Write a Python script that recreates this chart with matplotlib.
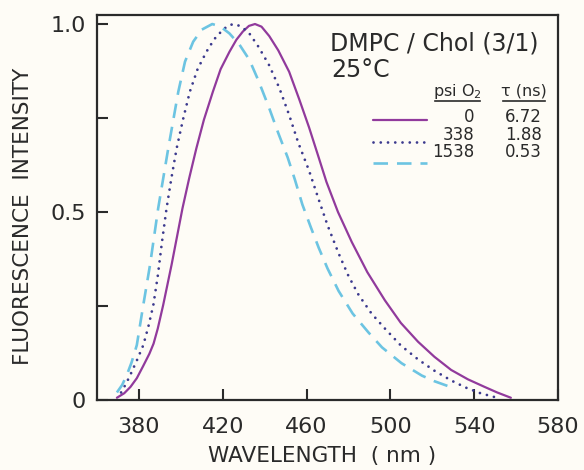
import matplotlib
matplotlib.use("Agg")
import matplotlib.pyplot as plt
from matplotlib.transforms import Affine2D

# ---- data ----
wl_0 = [369.5, 373, 376, 379, 382, 385, 387, 389, 391.6, 395.6, 400.8, 404, 407.4, 411,
        415.3, 419, 423.2, 426.5, 429.6, 432.5, 435.4, 438.5, 442.2, 446.5, 451.7, 456.5,
        461.2, 465.8, 469.5, 475, 481.6, 489, 497.4, 505, 513.2, 521, 529, 537, 544.9,
        551, 557.5]
int_0 = [0.006, 0.018, 0.035, 0.058, 0.09, 0.123, 0.15, 0.19, 0.253, 0.36, 0.51, 0.59,
         0.669, 0.745, 0.82, 0.88, 0.926, 0.958, 0.98, 0.995, 1.0, 0.993, 0.968, 0.93,
         0.873, 0.8, 0.725, 0.645, 0.58, 0.5, 0.42, 0.34, 0.265, 0.205, 0.155, 0.115,
         0.08, 0.055, 0.035, 0.02, 0.006]

wl_338 = [371.5, 374, 376, 379, 382.1, 384.5, 386.9, 389, 391, 393.2, 395.5, 398, 401,
          404.3, 408, 412.2, 416, 420.1, 423, 425.6, 429, 432.7, 437, 442.2, 447, 451.7,
          456, 461.2, 466, 470, 475.3, 480, 484.8, 491, 497.4, 505, 513.2, 521, 529, 536,
          543, 549.6]
int_338 = [0.02, 0.045, 0.068, 0.105, 0.146, 0.195, 0.253, 0.33, 0.42, 0.51, 0.59, 0.669,
           0.745, 0.82, 0.88, 0.926, 0.96, 0.985, 0.997, 1.0, 0.993, 0.975, 0.94, 0.89,
           0.83, 0.758, 0.685, 0.61, 0.53, 0.465, 0.39, 0.33, 0.28, 0.23, 0.19, 0.145,
           0.108, 0.078, 0.052, 0.033, 0.018, 0.008]

wl_1538 = [369.5, 372, 374.2, 376.5, 379, 382.1, 385.3, 389.2, 394, 398.8, 402, 405.9,
           410, 415, 419, 423.2, 428, 432.7, 437, 442.2, 446.5, 451, 454.5, 458, 462,
           465.8, 470, 475.3, 482, 489.5, 496, 505.3, 515, 521, 527.5]
int_1538 = [0.02, 0.04, 0.066, 0.1, 0.146, 0.253, 0.359, 0.51, 0.669, 0.82, 0.9, 0.953,
            0.985, 1.0, 0.993, 0.975, 0.945, 0.905, 0.85, 0.776, 0.71, 0.645, 0.585, 0.52,
            0.46, 0.405, 0.35, 0.29, 0.23, 0.18, 0.14, 0.098, 0.065, 0.05, 0.037]

psi_values = ["0", "338", "1538"]
tau_values = ["6.72", "1.88", "0.53"]
x_ticks = [380, 420, 460, 500, 540, 580]
y_ticks = [0, 0.5, 1.0]
y_tick_labels = ["0", "0.5", "1.0"]
y_minor = [0.25, 0.75]

# ---- figure ----
W, H = 584, 470
bg = "#FEFCF6"
ink = "#2a2a2a"
fig = plt.figure(figsize=(W / 100, H / 100), dpi=100, facecolor=bg)
ax = fig.add_axes([97 / W, 70 / H, (558 - 97) / W, (400 - 15) / H], facecolor=bg)

c_solid = "#913A9C"
c_dot = "#3C3A8E"
c_dash = "#6CC4E2"

l1, = ax.plot(wl_0, int_0, color=c_solid, lw=1.6, solid_capstyle="round",
              solid_joinstyle="round")
l2, = ax.plot(wl_338, int_338, color=c_dot, lw=2.0, linestyle=(0, (0.01, 2.6)),
              dash_capstyle="round")
l3, = ax.plot(wl_1538, int_1538, color=c_dash, lw=1.9, linestyle=(0, (5.5, 3.4)))

ax.set_xlim(360, 580)
ax.set_ylim(0, 1.024)
ax.set_xticks(x_ticks)
ax.set_xticklabels([str(v) for v in x_ticks])
ax.set_yticks(y_ticks)
ax.set_yticklabels(y_tick_labels)
ax.set_yticks(y_minor, minor=True)

for s in ax.spines.values():
    s.set_linewidth(1.6)
    s.set_color(ink)

ax.tick_params(which="both", direction="in", length=8, width=1.5, color=ink,
               top=False, right=False, labelsize=16, labelcolor=ink)
ax.tick_params(axis="x", pad=12)
ax.tick_params(axis="y", pad=8)

ax.set_xlabel("WAVELENGTH  ( nm )", fontsize=15.5, color=ink)
ax.set_ylabel("FLUORESCENCE  INTENSITY", fontsize=15.5, color=ink)
ax.xaxis.set_label_coords(0.488, -0.12)
ax.yaxis.set_label_coords(-0.139, 0.478)

# pixel-based figure transform (origin top-left)
pix = Affine2D().scale(1 / W, -1 / H).translate(0, 1) + fig.transFigure

fig.text(330, 50, "DMPC / Chol (3/1)", transform=pix, fontsize=17, color=ink,
         ha="left", va="baseline")
fig.text(331, 77, "25°C", transform=pix, fontsize=17, color=ink,
         ha="left", va="baseline")

# table header
fig.text(457, 96, "psi O$_2$", transform=pix, fontsize=11.5, color=ink,
         ha="center", va="baseline")
fig.text(524, 96, "τ (ns)", transform=pix, fontsize=11.5, color=ink,
         ha="center", va="baseline")
fig.add_artist(plt.Line2D([435, 480], [101, 101], transform=pix, color=ink, lw=1.2))
fig.add_artist(plt.Line2D([503, 545], [101, 101], transform=pix, color=ink, lw=1.2))

row_y = [117, 135, 152]
for yy, p, t in zip(row_y, psi_values, tau_values):
    fig.text(474, yy, p, transform=pix, fontsize=12, color=ink,
             ha="right", va="center")
    fig.text(542, yy, t, transform=pix, fontsize=12, color=ink,
             ha="right", va="center")

leg = ax.legend(handles=[l1, l2, l3], labels=["", "", ""], frameon=False,
                loc="upper left", bbox_to_anchor=(363 / W, 1 - 104 / H),
                bbox_transform=fig.transFigure, fontsize=10, handlelength=3.9,
                handletextpad=0.0, labelspacing=0.55, borderpad=0.2)

fig.savefig("out.png", dpi=100, facecolor=bg)
